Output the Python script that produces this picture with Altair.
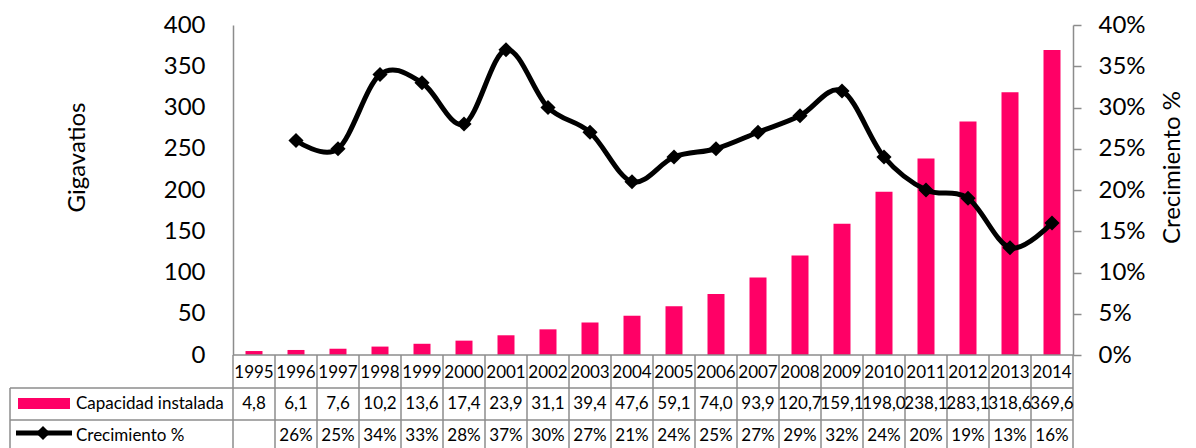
import altair as alt
import pandas as pd

# Installed wind capacity (GW) and year-on-year growth (%)
years = ["1995", "1996", "1997", "1998", "1999", "2000", "2001", "2002", "2003", "2004",
         "2005", "2006", "2007", "2008", "2009", "2010", "2011", "2012", "2013", "2014"]
capacidad = [4.8, 6.1, 7.6, 10.2, 13.6, 17.4, 23.9, 31.1, 39.4, 47.6,
             59.1, 74.0, 93.9, 120.7, 159.1, 198.0, 238.1, 283.1, 318.6, 369.6]
crecimiento = [None, 26, 25, 34, 33, 28, 37, 30, 27, 21,
               24, 25, 27, 29, 32, 24, 20, 19, 13, 16]

left_ticks = [0, 50, 100, 150, 200, 250, 300, 350, 400]
right_ticks = [0, 0.05, 0.10, 0.15, 0.20, 0.25, 0.30, 0.35, 0.40]

PINK = "#FF0066"
GRID = "#8C8C8C"
FONT = "Lato"
TFS = 17  # table font size
W, H = 840, 330

df = pd.DataFrame({"year": years, "capacidad": capacidad, "crec": crecimiento})
df["crec_frac"] = df["crec"] / 100
df["cap_label"] = [f"{v:.1f}".replace(".", ",") for v in capacidad]
df["crec_label"] = ["" if c is None else f"{int(c)}%" for c in crecimiento]

one = pd.DataFrame({"k": [0]})

xband = alt.X("year:O", sort=years, axis=None,
              scale=alt.Scale(paddingInner=0, paddingOuter=0))

bars = alt.Chart(df).mark_bar(size=17, color=PINK).encode(
    x=xband,
    y=alt.Y("capacidad:Q", scale=alt.Scale(domain=[0, 400], nice=False),
            axis=alt.Axis(title="Gigavatios", values=left_ticks, tickSize=0,
                          labelPadding=28, domainColor=GRID, domainWidth=1.5,
                          grid=False, titleAngle=270, titleX=-156, titleY=132,
                          titleAlign="center", titleBaseline="middle")),
)

right_axis = alt.Axis(title="Crecimiento %", orient="right", values=right_ticks,
                      format=".0%", tickSize=8, tickColor=GRID, tickWidth=1.5,
                      labelPadding=17, domainColor=GRID, domainWidth=1.5,
                      grid=False, titleAngle=270, titleX=99, titleY=142,
                      titleAlign="center", titleBaseline="middle")
yright = alt.Y("crec_frac:Q", scale=alt.Scale(domain=[0, 0.4], nice=False),
               axis=right_axis)

line = alt.Chart(df).mark_line(color="black", strokeWidth=5,
                               interpolate="cardinal").encode(x=xband, y=yright)
pts = alt.Chart(df).mark_point(shape="diamond", filled=True, size=230,
                               color="black", opacity=1).encode(x=xband, y=yright)
growth = alt.layer(line, pts)

# data table under the plot
txt = dict(font=FONT, fontSize=TFS, color="black", align="center", baseline="middle")
row_year = alt.Chart(df).mark_text(**txt).encode(x=xband, y=alt.value(348), text="year:N")
row_cap = alt.Chart(df).mark_text(**txt).encode(x=xband, y=alt.value(378.5), text="cap_label:N")
row_crec = alt.Chart(df).mark_text(**txt).encode(x=xband, y=alt.value(411), text="crec_label:N")

rule_kw = dict(color=GRID, strokeWidth=1.5)
vlines = alt.Chart(df).mark_rule(**rule_kw).encode(
    x=alt.X("year:O", sort=years, axis=None, bandPosition=0,
            scale=alt.Scale(paddingInner=0, paddingOuter=0)),
    y=alt.value(330), y2=alt.value(423))
right_border = alt.Chart(one).mark_rule(**rule_kw).encode(
    x=alt.value(W), y=alt.value(330), y2=alt.value(423))
left_border = alt.Chart(one).mark_rule(**rule_kw).encode(
    x=alt.value(-223), y=alt.value(363), y2=alt.value(423))
baseline = alt.Chart(one).mark_rule(**rule_kw).encode(
    x=alt.value(0), x2=alt.value(W), y=alt.value(330))
hline1 = alt.Chart(one).mark_rule(**rule_kw).encode(
    x=alt.value(-223), x2=alt.value(W), y=alt.value(363))
hline2 = alt.Chart(one).mark_rule(**rule_kw).encode(
    x=alt.value(-223), x2=alt.value(W), y=alt.value(395))

# legend keys inside the table
key_bar = alt.Chart(one).mark_rect(color=PINK).encode(
    x=alt.value(-215), x2=alt.value(-163), y=alt.value(373), y2=alt.value(384))
key_bar_txt = alt.Chart(one).mark_text(font=FONT, fontSize=TFS, color="black",
                                       align="left", baseline="middle").encode(
    x=alt.value(-157), y=alt.value(378.5), text=alt.value("Capacidad instalada"))
key_line = alt.Chart(one).mark_rule(color="black", strokeWidth=5).encode(
    x=alt.value(-217), x2=alt.value(-161), y=alt.value(408))
key_pt = alt.Chart(one).mark_point(shape="diamond", filled=True, size=200,
                                   color="black", opacity=1).encode(
    x=alt.value(-190), y=alt.value(408))
key_line_txt = alt.Chart(one).mark_text(font=FONT, fontSize=TFS, color="black",
                                        align="left", baseline="middle").encode(
    x=alt.value(-157), y=alt.value(411), text=alt.value("Crecimiento %"))

chart = alt.layer(
    bars, growth,
    vlines, right_border, left_border, baseline, hline1, hline2,
    row_year, row_cap, row_crec,
    key_bar, key_bar_txt, key_line, key_pt, key_line_txt,
).resolve_scale(y="independent").properties(
    width=W, height=H,
    autosize=alt.AutoSizeParams(type="none"),
    padding={"left": 233, "top": 25, "right": 123, "bottom": 93},
    background="white",
).configure_view(stroke=None).configure_axis(
    labelFont=FONT, titleFont=FONT, labelFontSize=24, titleFontSize=24,
    labelColor="black", titleColor="black", titleFontWeight="normal",
)

chart.save("out.html", embed_options={"renderer": "svg", "actions": False})
